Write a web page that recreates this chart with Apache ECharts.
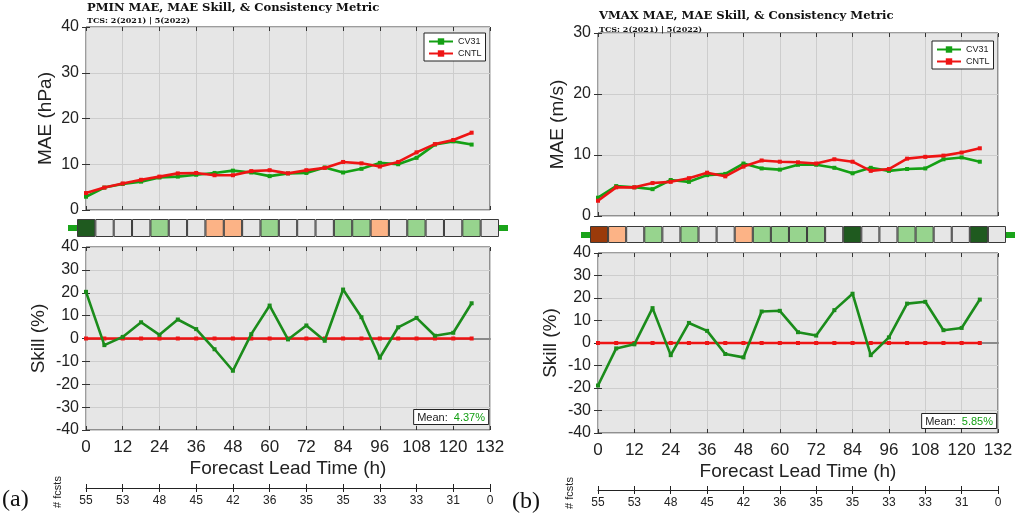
<!DOCTYPE html>
<html><head><meta charset="utf-8">
<script src="https://cdn.jsdelivr.net/npm/echarts@6/dist/echarts.min.js"></script>
<style>html,body{margin:0;padding:0;background:#fff}#c{width:1017px;height:518px}</style>
</head><body><div id="c"></div>
<script>
// ---------- DATA ----------
const leadTimes = [0,6,12,18,24,30,36,42,48,54,60,66,72,78,84,90,96,102,108,114,120,126];

const pminMaeCV31 = [2.9,4.9,5.7,6.2,7.1,7.3,7.7,8.1,8.6,8.2,7.4,8.0,8.1,9.3,8.2,9.0,10.3,10.0,11.4,14.3,15.0,14.3];
const pminMaeCNTL = [3.7,4.9,5.8,6.6,7.3,8.0,8.1,7.6,7.6,8.5,8.7,8.0,8.7,9.2,10.5,10.2,9.5,10.5,12.6,14.4,15.3,16.9];
const pminSkillCV31 = [20.4,-2.9,0.7,7.1,1.6,8.3,4.1,-4.7,-14.1,1.9,14.4,-0.4,5.7,-1.0,21.4,9.3,-8.4,4.9,9.0,1.2,2.5,15.4];
const pminSkillCNTL = [0,0,0,0,0,0,0,0,0,0,0,0,0,0,0,0,0,0,0,0,0,0];
const pminConsistency = [2,0,0,0,1,0,0,-1,-1,0,1,0,0,0,1,1,-1,0,1,0,0,1,0];
const pminFcsts = ['55','53','48','45','42','36','35','35','33','33','31','0'];
const pminMean = '4.37';

const vmaxMaeCV31 = [3.0,4.9,4.7,4.4,5.9,5.6,6.7,6.9,8.6,7.8,7.6,8.4,8.4,7.9,7.0,7.9,7.4,7.7,7.8,9.3,9.6,8.9];
const vmaxMaeCNTL = [2.5,4.7,4.7,5.4,5.6,6.2,7.1,6.5,8.1,9.1,8.9,8.8,8.6,9.3,8.9,7.4,7.7,9.4,9.7,9.9,10.4,11.1];
const vmaxSkillCV31 = [-18.9,-2.4,-0.6,15.5,-5.4,8.9,5.4,-4.9,-6.4,14.0,14.3,4.8,3.3,14.6,21.9,-5.4,2.5,17.5,18.3,5.7,6.7,19.3];
const vmaxSkillCNTL = [0,0,0,0,0,0,0,0,0,0,0,0,0,0,0,0,0,0,0,0,0,0];
const vmaxConsistency = [-2,-1,0,1,0,1,0,0,-1,1,1,1,1,0,2,0,0,1,1,0,0,2,0];
const vmaxFcsts = ['55','53','48','45','42','36','35','35','33','33','31','0'];
const vmaxMean = '5.85';

// ---------- STYLE ----------
const FONT = 'Liberation Sans, Arial, sans-serif';
const GREEN = '#14a014', GREEN_D = '#1b8c1b', RED = '#ee1414';
const consColors = {'2':'#1f5a1f','1':'#97d48e','0':'#e6e6e6','-1':'#fcb386','-2':'#9a3a0a'};

const grids = [], xAxes = [], yAxes = [], series = [], titles = [], legends = [], graphics = [];

function pairs(vals){ return vals.map((v,i)=>[leadTimes[i], v]); }

function panel(P){
  const g0 = grids.length, x0 = xAxes.length, y0 = yAxes.length;
  const gridBase = {show:true, backgroundColor:'#e6e6e6', borderColor:'#3a3a3a', borderWidth:1, containLabel:false};
  grids.push(Object.assign({}, gridBase, P.mae));
  grids.push({left:P.cons.left, top:P.cons.top, width:P.cons.width, height:P.cons.height, show:false});
  grids.push(Object.assign({}, gridBase, P.skill));
  grids.push({left:P.fcst.left, top:P.fcst.top, width:P.fcst.width, height:1, show:false});

  const tickIn = {show:true, inside:true, length:4, lineStyle:{color:'#333'}};
  const split = {show:true, lineStyle:{color:'#cdcdcd', width:1}};
  const xBase = {type:'value', min:0, max:132, interval:12, axisLine:{show:false, onZero:false}};
  xAxes.push(Object.assign({}, xBase, {gridIndex:g0, position:'bottom', axisTick:tickIn, axisLabel:{show:false}, splitLine:split})); // 0
  xAxes.push(Object.assign({}, xBase, {gridIndex:g0, position:'top', axisTick:tickIn, axisLabel:{show:false}, splitLine:{show:false}})); // 1
  xAxes.push({type:'category', gridIndex:g0+1, data:P.consistency.map((_,i)=>String(i)), show:false}); // 2
  xAxes.push(Object.assign({}, xBase, {gridIndex:g0+2, position:'bottom', axisTick:tickIn, splitLine:split,
    axisLabel:{show:true, fontSize:17, color:'#222', fontFamily:FONT, margin:9},
    name:'Forecast Lead Time (h)', nameLocation:'middle', nameGap:29,
    nameTextStyle:{fontSize:19, color:'#222', fontFamily:FONT}})); // 3
  xAxes.push(Object.assign({}, xBase, {gridIndex:g0+2, position:'top', axisTick:tickIn, axisLabel:{show:false}, splitLine:{show:false}})); // 4
  xAxes.push(Object.assign({}, xBase, {gridIndex:g0+3, position:'bottom', axisLine:{show:true, onZero:false, lineStyle:{color:'#222'}},
    axisTick:{show:true, inside:false, length:4, lineStyle:{color:'#222'}},
    axisLabel:{show:true, fontSize:12, color:'#222', fontFamily:FONT, margin:7, formatter:(v)=>P.fcsts[Math.round(v/12)]},
    splitLine:{show:false}})); // 5
  xAxes.push(Object.assign({}, xBase, {gridIndex:g0+3, position:'top', axisLine:{show:false},
    axisTick:{show:true, inside:false, length:4, lineStyle:{color:'#222'}}, axisLabel:{show:false}, splitLine:{show:false}})); // 6
  // zero reference line of the skill plot (axis line sitting on zero)
  xAxes.push({type:'value', gridIndex:g0+2, min:0, max:132, position:'bottom',
    axisLine:{show:true, onZero:true, lineStyle:{color:'#8a8a8a', width:2}},
    axisTick:{show:false}, axisLabel:{show:false}, splitLine:{show:false}}); // 7

  const yLab = {show:true, fontSize:16, color:'#222', fontFamily:FONT, margin:7};
  yAxes.push({type:'value', gridIndex:g0, min:0, max:P.maeMax, interval:10, position:'left', axisLine:{show:false},
    axisTick:tickIn, axisLabel:yLab, splitLine:split,
    name:P.maeName, nameLocation:'middle', nameGap:P.maeGap, nameRotate:90,
    nameTextStyle:{fontSize:19, color:'#222', fontFamily:FONT}}); // 0
  yAxes.push({type:'value', gridIndex:g0, min:0, max:P.maeMax, interval:10, position:'right', axisLine:{show:false},
    axisTick:tickIn, axisLabel:{show:false}, splitLine:{show:false}}); // 1
  yAxes.push({type:'value', gridIndex:g0+1, min:0, max:1, show:false}); // 2
  yAxes.push({type:'value', gridIndex:g0+2, min:-40, max:40, interval:10, position:'left', axisLine:{show:false},
    axisTick:tickIn, axisLabel:yLab, splitLine:split,
    name:'Skill (%)', nameLocation:'middle', nameGap:P.skillGap, nameRotate:90,
    nameTextStyle:{fontSize:19, color:'#222', fontFamily:FONT}}); // 3
  yAxes.push({type:'value', gridIndex:g0+2, min:-40, max:40, interval:10, position:'right', axisLine:{show:false},
    axisTick:tickIn, axisLabel:{show:false}, splitLine:{show:false}}); // 4
  yAxes.push({type:'value', gridIndex:g0+3, min:0, max:1, show:false}); // 5

  const lineS = (name, data, color, xi, yi, z) => ({
    type:'line', name, data:pairs(data), xAxisIndex:x0+xi, yAxisIndex:y0+yi,
    symbol:'rect', symbolSize:4, showSymbol:true, z,
    lineStyle:{color, width:2.6}, itemStyle:{color}, animation:false, silent:true
  });
  series.push(lineS('CV31', P.maeCV31, GREEN, 0, 0, 3));
  series.push(lineS('CNTL', P.maeCNTL, RED, 0, 0, 4));
  series.push({type:'bar', xAxisIndex:x0+2, yAxisIndex:y0+2, barWidth:'100%', barCategoryGap:0, animation:false, silent:true,
    data:P.consistency.map(v=>({value:1, itemStyle:{color:consColors[String(v)], borderColor:'#3a3a3a', borderWidth:1}}))});
  series.push(lineS('CNTL', P.skillCNTL, RED, 3, 3, 3));
  series.push(lineS('CV31', P.skillCV31, GREEN_D, 3, 3, 4));

  titles.push({text:P.title, left:P.titleX, top:P.titleY, padding:0,
    textStyle:{fontFamily:'DejaVu Serif, serif', fontWeight:'bold', fontSize:11.6, color:'#111'}});
  titles.push({text:'TCS: 2(2021) | 5(2022)', left:P.titleX, top:P.subY, padding:0,
    textStyle:{fontFamily:'DejaVu Serif, serif', fontWeight:'bold', fontSize:8, color:'#111'}});
  titles.push({text:'{k|Mean:}  {v|' + P.mean + '%}', right:P.meanRight, top:P.meanTop, padding:[3,4,2,4],
    borderColor:'#222', borderWidth:1, backgroundColor:'#fff',
    textStyle:{fontSize:11, fontWeight:'normal', rich:{
      k:{fontSize:11, color:'#222', fontFamily:FONT},
      v:{fontSize:11, color:'#14a014', fontFamily:FONT}}}});

  legends.push({data:['CV31','CNTL'], left:P.legX, top:P.legY, orient:'vertical', itemGap:3,
    itemWidth:24, itemHeight:8, padding:[4,4,3,4], borderColor:'#222', borderWidth:1, backgroundColor:'#fff',
    textStyle:{fontSize:9, color:'#222', fontFamily:FONT}, selectedMode:false});

  graphics.push({type:'rect', shape:{x:P.cons.left-9, y:P.endY, width:9, height:6}, style:{fill:'#1aa41a'}, silent:true});
  graphics.push({type:'rect', shape:{x:P.cons.left+P.cons.width, y:P.endY, width:9, height:6}, style:{fill:'#1aa41a'}, silent:true});
  graphics.push({type:'text', x:P.tagX, y:P.tagY, style:{text:P.tag, font:'24px "Liberation Serif", serif', fill:'#111', textAlign:'left', textVerticalAlign:'middle'}, silent:true});
  graphics.push({type:'text', x:P.fcX, y:P.fcY, rotation:Math.PI/2, style:{text:'# fcsts', font:'11px "Liberation Sans", Arial', fill:'#222', textAlign:'center', textVerticalAlign:'middle'}, silent:true});
}

panel({
  mae:{left:86, top:27, width:404, height:183},
  cons:{left:77, top:219, width:422, height:18},
  skill:{left:86, top:247, width:404, height:183},
  fcst:{left:86, top:487, width:404},
  maeMax:40, maeName:'MAE (hPa)', maeGap:31, skillGap:38,
  maeCV31:pminMaeCV31, maeCNTL:pminMaeCNTL, skillCV31:pminSkillCV31, skillCNTL:pminSkillCNTL,
  consistency:pminConsistency, fcsts:pminFcsts, mean:pminMean,
  title:'PMIN MAE, MAE Skill, & Consistency Metric', titleX:87, titleY:2, subY:17,
  meanRight:528, meanTop:409, legX:424, legY:33, endY:225,
  tag:'(a)', tagX:2, tagY:500, fcX:58, fcY:492
});
panel({
  mae:{left:598, top:33, width:400, height:183},
  cons:{left:590, top:226, width:416, height:17},
  skill:{left:598, top:253, width:400, height:180},
  fcst:{left:598, top:489, width:400},
  maeMax:30, maeName:'MAE (m/s)', maeGap:31, skillGap:38,
  maeCV31:vmaxMaeCV31, maeCNTL:vmaxMaeCNTL, skillCV31:vmaxSkillCV31, skillCNTL:vmaxSkillCNTL,
  consistency:vmaxConsistency, fcsts:vmaxFcsts, mean:vmaxMean,
  title:'VMAX MAE, MAE Skill, & Consistency Metric', titleX:599, titleY:10, subY:26,
  meanRight:20, meanTop:413, legX:932, legY:41, endY:232,
  tag:'(b)', tagX:512, tagY:502, fcX:570, fcY:493
});

const chart = echarts.init(document.getElementById('c'), null, {renderer:'canvas'});
chart.setOption({
  animation:false,
  backgroundColor:'#fff',
  title:titles, legend:legends, grid:grids, xAxis:xAxes, yAxis:yAxes, series:series, graphic:graphics
});
</script></body></html>
